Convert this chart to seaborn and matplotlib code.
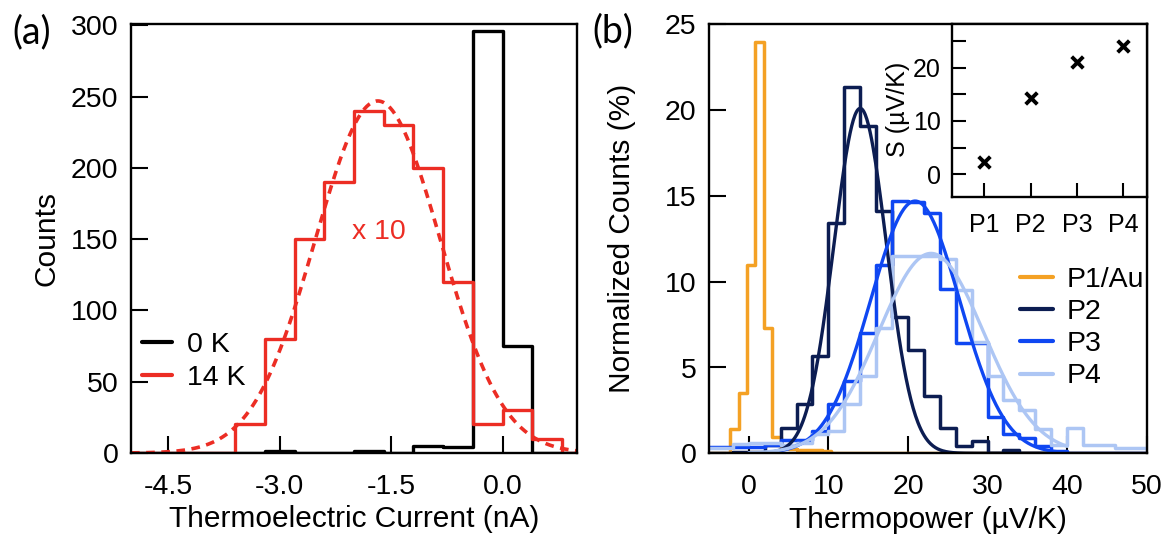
import numpy as np
import matplotlib
matplotlib.use("Agg")
import matplotlib.pyplot as plt
from matplotlib.lines import Line2D
import seaborn as sns

sns.set_theme(style="ticks", rc={
    "axes.edgecolor": "black", "text.color": "black", "axes.labelcolor": "black",
    "xtick.color": "black", "ytick.color": "black"})
plt.rcParams['font.family'] = ['Liberation Sans', 'DejaVu Sans']

# ---------------- panel (a) data ----------------
a_edges = [-5.2, -3.6, -3.2, -2.8, -2.4, -2.0, -1.6, -1.2, -0.8, -0.4, 0.0, 0.4, 0.8, 1.2]
counts_0K = [0, 0, 1.5, 0, 0, 1.5, 0, 5, 4, 296, 75, 0, 0]
counts_14K_x10 = [0, 20, 80, 150, 190, 240, 230, 200, 120, 20, 30, 10, 0]
fit14_amp, fit14_center, fit14_sigma = 247, -1.68, 0.84
a_xticks = [-4.5, -3.0, -1.5, 0.0]
a_xticklabels = ["-4.5", "-3.0", "-1.5", "0.0"]
a_yticks = [0, 50, 100, 150, 200, 250, 300]

# ---------------- panel (b) data ----------------
p1_edges = [-6.0, -2.31, -1.26, -0.21, 0.84, 1.89, 2.94, 3.99, 5.04, 6.09, 7.14, 8.19, 9.24, 10.29, 51.0]
p1_vals = [0, 1.42, 3.5, 10.97, 23.95, 7.3, 0.97, 0.35, 0.25, 0.2, 0.2, 0.2, 0.15, 0]
b_edges = [-6, -4, -2, 0, 2, 4, 6, 8, 10, 12, 14, 16, 18, 20, 22, 24, 26, 28, 30,
           32, 34, 36, 38, 40, 42, 44, 46, 48, 50, 52]
p2_vals = [0, 0, 0.1, 0.1, 0.5, 1.45, 2.85, 5.65, 13.4, 21.35, 19.1, 14.1, 7.95, 6.0,
           3.35, 1.45, 0.4, 0.7, 0, 0.2, 0, 0, 0, 0, 0, 0, 0, 0, 0]
p3_vals = [0.35, 0.35, 0.35, 0.35, 0.5, 0.8, 0.8, 1.3, 2.9, 4.2, 7.0, 11.0, 14.7, 14.65,
           14.0, 9.6, 6.4, 6.4, 2.1, 1.1, 0.9, 0.4, 0.15, 0, 0, 0, 0, 0, 0]
p4_vals = [0.3, 0.3, 0.55, 0.6, 0.6, 0.5, 0.6, 1.1, 1.3, 2.9, 4.5, 7.3, 11.5, 11.5,
           11.5, 11.3, 9.5, 6.5, 4.5, 3.1, 2.5, 1.4, 0.5, 1.45, 0.5, 0.5, 0.3, 0.3, 0.3]
p2_fit = (20.1, 14.0, 3.3)
p3_fit = (14.7, 20.9, 5.6)
p4_fit = (11.65, 22.9, 6.6)
b_xticks = [0, 10, 20, 30, 40, 50]
b_yticks = [0, 5, 10, 15, 20, 25]
series_labels = ["P1/Au", "P2", "P3", "P4"]

# inset
inset_labels = ["P1", "P2", "P3", "P4"]
inset_S = [2.3, 14.3, 21.0, 24.0]

# colours
c_red = "#ec2d24"
c_orange = "#f4a124"
c_navy = "#0c1d52"
c_blue = "#0f47f2"
c_light = "#adc6f4"


def gauss(x, amp, cen, sig):
    return amp * np.exp(-(x - cen) ** 2 / (2 * sig ** 2))


def step_hist(ax, edges, heights, color, lw):
    # histogram outline: value of each bin held across [edge_i, edge_i+1], drop to 0 at the end
    x = list(edges)
    y = list(heights) + [0]
    sns.lineplot(x=x, y=y, ax=ax, color=color, linewidth=lw, drawstyle="steps-post",
                 estimator=None, sort=False)


W, H = 1172, 537
fig = plt.figure(figsize=(W / 100, H / 100), dpi=100)
axA = fig.add_axes([131 / W, 1 - 453 / H, 446 / W, 429 / H])
axB = fig.add_axes([709 / W, 1 - 453.3 / H, 437.7 / W, 429 / H])
axI = fig.add_axes([951.7 / W, 1 - 196.7 / H, (1146.7 - 951.7) / W, (196.7 - 24.3) / H])

TICK = 20.5
LAB = 21.5

# ---------------- panel (a) ----------------
step_hist(axA, a_edges, counts_0K, "black", 2.4)
step_hist(axA, a_edges, counts_14K_x10, c_red, 2.4)
xa = np.linspace(-5, 1, 400)
axA.plot(xa, gauss(xa, fit14_amp, fit14_center, fit14_sigma),
         color=c_red, linewidth=2.6, linestyle=(0, (2.4, 1.8)))
axA.text(-1.67, 155, "x 10", color=c_red, fontsize=20.5, ha="center", va="center")
axA.set_xlim(-5, 1)
axA.set_ylim(0, 301)
axA.set_xticks(a_xticks)
axA.set_xticklabels(a_xticklabels)
axA.set_yticks(a_yticks)
axA.set_xlabel("Thermoelectric Current (nA)", fontsize=LAB, labelpad=4)
axA.set_ylabel("Counts", fontsize=LAB)
axA.yaxis.set_label_coords(-0.157, 0.5)
axA.legend([Line2D([], [], color="black", lw=3), Line2D([], [], color=c_red, lw=3)],
           ["0 K", "14 K"], loc="upper left", bbox_to_anchor=(0.024, 0.283),
           frameon=False, fontsize=20.5, handlelength=1.05, handletextpad=0.53,
           labelspacing=0.25, borderpad=0, borderaxespad=0)

# ---------------- panel (b) ----------------
step_hist(axB, p1_edges, p1_vals, c_orange, 2.5)
step_hist(axB, b_edges, p2_vals, c_navy, 2.5)
step_hist(axB, b_edges, p3_vals, c_blue, 2.5)
step_hist(axB, b_edges, p4_vals, c_light, 2.5)
xb = np.linspace(0, 40, 400)
for fit, col in [(p2_fit, c_navy), (p3_fit, c_blue), (p4_fit, c_light)]:
    axB.plot(xb, gauss(xb, *fit), color=col, linewidth=2.4)
axB.set_xlim(-5, 50)
axB.set_ylim(0, 25)
axB.set_xticks(b_xticks)
axB.set_yticks(b_yticks)
axB.set_xlabel("Thermopower (\u00b5V/K)", fontsize=LAB, labelpad=4)
axB.set_ylabel("Normalized Counts (%)", fontsize=LAB)
axB.yaxis.set_label_coords(-0.167, 0.5)
axB.legend([Line2D([], [], color=c, lw=3) for c in [c_orange, c_navy, c_blue, c_light]],
           series_labels, loc="upper left", bbox_to_anchor=(0.7105, 0.435),
           frameon=False, fontsize=20.5, handlelength=1.15, handletextpad=0.5,
           labelspacing=0.22, borderpad=0, borderaxespad=0)

for ax in (axA, axB):
    ax.tick_params(direction="in", length=12, width=1.5, labelsize=TICK, pad=9,
                   top=False, right=False)
    ax.tick_params(axis="x", pad=15)
    for s in ax.spines.values():
        s.set_linewidth(1.7)
        s.set_color("black")

# ---------------- inset ----------------
axI.set_facecolor("white")
sns.scatterplot(x=list(range(len(inset_labels))), y=inset_S, ax=axI, marker="x",
                color="black", s=70, linewidth=2.8)
axI.set_xlim(-0.7, 3.5)
axI.set_ylim(-4.2, 28.1)
axI.set_xticks(range(len(inset_labels)))
axI.set_xticklabels(inset_labels)
axI.set_yticks([0, 10, 20])
axI.set_yticks([5, 15, 25], minor=True)
axI.tick_params(which="both", direction="in", length=10, width=1.5, labelsize=18,
                pad=8, top=False, right=False)
axI.tick_params(axis="x", pad=12)
axI.set_ylabel("S (\u00b5V/K)", fontsize=18)
axI.yaxis.set_label_coords(-0.214, 0.509)
for s in axI.spines.values():
    s.set_linewidth(1.7)
    s.set_color("black")

fig.text(32 / W, 1 - 32 / H, "(a)", fontsize=27, ha="center", va="center",
         family=["Lato", "DejaVu Sans"])
fig.text(613 / W, 1 - 31 / H, "(b)", fontsize=27, ha="center", va="center",
         family=["Lato", "DejaVu Sans"])

fig.savefig("out.png", dpi=100)
